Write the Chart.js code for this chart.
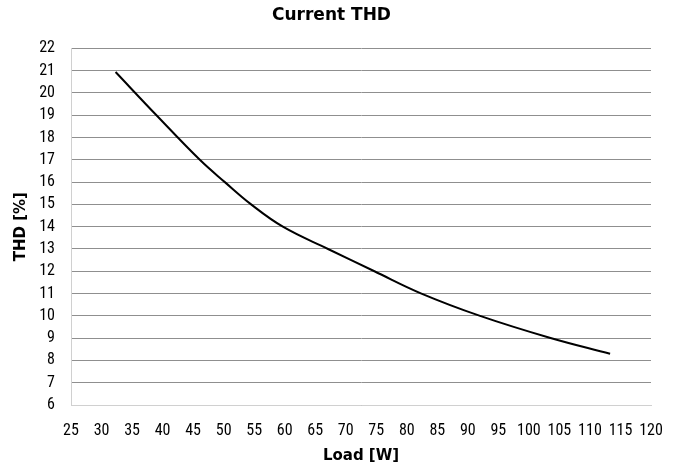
<!DOCTYPE html>
<html>
<head>
<meta charset="utf-8">
<script src="https://cdn.jsdelivr.net/npm/chart.js@4.4.0/dist/chart.umd.min.js"></script>
<style>
html,body{margin:0;padding:0;background:#fff;}
#wrap{width:681px;height:470px;}
</style>
</head>
<body>
<div id="wrap"><canvas id="c" width="681" height="470"></canvas></div>
<script>
const loadW = [32.3, 39.0, 46.1, 50.2, 54.5, 59.7, 67.1, 74.7, 82.4, 92.0, 103.4, 113.3];
const thdPct = [20.94, 19.0, 17.0, 16.0, 15.0, 14.0, 13.0, 12.0, 11.0, 10.0, 9.02, 8.30];
const xTicks = {min: 25, max: 120, step: 5};
const yTicks = {min: 6, max: 22, step: 1};
const titleText = 'Current THD';
const xTitle = 'Load [W]';
const yTitle = 'THD [%]';

const FONT = "'Liberation Sans Narrow', 'Roboto Condensed', 'DejaVu Sans Condensed', sans-serif";
const BOLD = "'DejaVu Sans', 'Noto Sans', sans-serif";
const points = loadW.map((x, i) => ({x: x, y: thdPct[i]}));

new Chart(document.getElementById('c'), {
  type: 'scatter',
  data: {
    datasets: [{
      data: points,
      showLine: true,
      borderColor: '#000',
      borderWidth: 2,
      pointRadius: 0,
      fill: false,
      tension: 0.4
    }]
  },
  options: {
    responsive: false,
    animation: false,
    devicePixelRatio: 1,
    layout: {padding: {left: 12, right: 30, top: 0, bottom: 0}},
    plugins: {
      legend: {display: false},
      tooltip: {enabled: false},
      title: {
        display: true,
        text: titleText,
        color: '#000',
        font: {family: BOLD, size: 17, weight: 'bold'},
        padding: {top: 5, bottom: 23}
      }
    },
    scales: {
      x: {
        type: 'linear',
        min: xTicks.min, max: xTicks.max,
        ticks: {stepSize: xTicks.step, color: '#000', padding: 16, font: {family: FONT, size: 16}, maxRotation: 0, autoSkip: false},
        grid: {display: false, drawTicks: false},
        border: {display: true, color: '#d0d0d0', width: 1},
        title: {display: true, text: xTitle, color: '#000', font: {family: BOLD, size: 15, weight: 'bold'}, padding: {top: 4, bottom: 5}},
        afterFit: s => { s.height = 65; }
      },
      y: {
        type: 'linear',
        min: yTicks.min, max: yTicks.max,
        ticks: {stepSize: yTicks.step, color: '#000', padding: 16, font: {family: FONT, size: 16}},
        grid: {color: '#8f8f8f', lineWidth: 1, drawTicks: false},
        border: {display: true, color: '#d0d0d0', width: 1},
        title: {display: true, text: yTitle, color: '#000', font: {family: BOLD, size: 15, weight: 'bold'}, padding: {top: 0, bottom: 4}},
        afterFit: s => { s.width = 59; }
      }
    }
  }
});
</script>
</body>
</html>
